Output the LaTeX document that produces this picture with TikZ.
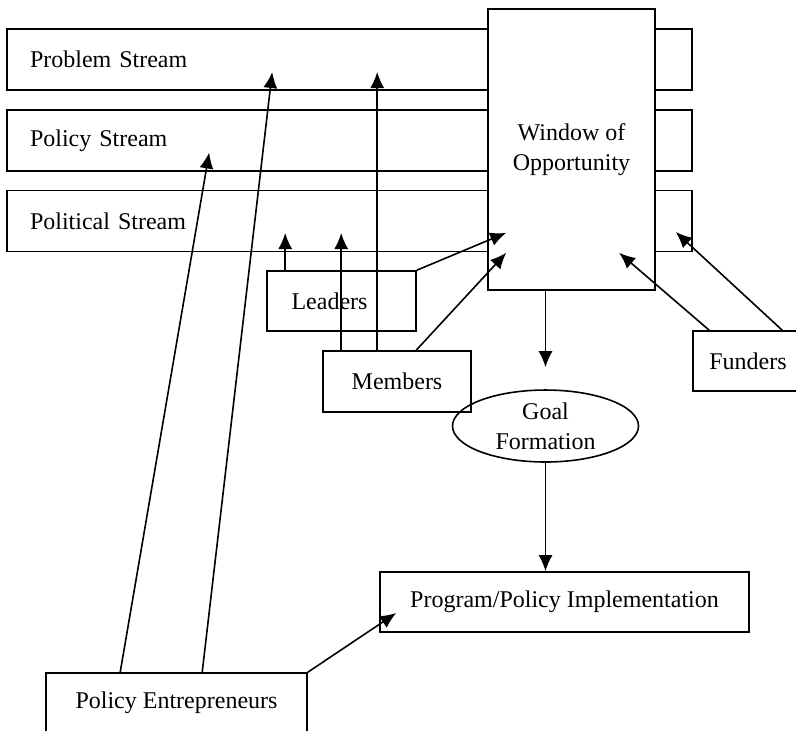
\documentclass[tikz,border=0pt]{standalone}
\usepackage{fontspec}
\setmainfont{Liberation Serif}
\usepackage{tikz}
\usetikzlibrary{shapes,arrows,arrows.meta,positioning}

\tikzset{
  stream/.style={draw, rectangle, draw=black, minimum width=342.5pt, minimum height=30.5pt, text width=319.5pt, inner xsep=11.5pt, align=left},
  box/.style={draw, rectangle, draw=black, minimum height=30pt, text centered},
  link/.style={black, line width=0.8pt, -{Latex[length=8pt,width=7pt]}}
}

\begin{document}
\begin{tikzpicture}[x=0.5pt, y=-0.5pt, line width=0.8pt, font=\fontsize{12}{15}\selectfont]
       \useasboundingbox (0,0) rectangle (796,730);

       %Defining nodes
       \node[stream] (Problem) at (349.5,59.5) {Problem Stream};
       \node[stream, below of=Problem, node distance=40.5pt] (Policy) {Policy Stream};
       \node[stream, below of=Policy, node distance=40.25pt] (Political) {Political Stream};

       \node[draw, rectangle, draw=black, fill=white, minimum width=83.5pt, minimum height=140.5pt, align=center] (Window) at (571.5,149.5) {Window of\\Opportunity};

       \node[box, minimum width=74.5pt] (Leaders) at (341.5,301) {Leaders\hspace*{12pt}};
       \node[box, minimum width=74pt, minimum height=30.5pt, below of=Leaders, node distance=40.25pt, xshift=27.75pt] (Members) {Members};
       \node[box, minimum width=55pt] (Funders) at (748,361) {Funders};

       \node[draw, ellipse, draw=black, minimum width=93pt, minimum height=35pt, inner sep=1pt, align=center] (Goal) at (545.5,426) {Goal\\Formation};

       \node[box, minimum width=184.5pt] (Program) at (564.5,602) {Program/Policy Implementation};
       \node[box, minimum width=130.5pt] (Entrepreneurs) at (176.5,703) {Policy Entrepreneurs}; %cut by the page edge

       %Drawing Diagram
       \draw[link] ([shift={(75,0)}]Entrepreneurs.north west) -- ([shift={(203,12)}]Policy.west);
       \draw[link] ([shift={(157,0)}]Entrepreneurs.north west) -- ([shift={(266,12.5)}]Problem.west);
       \draw[link] (Entrepreneurs.north east) -- ([shift={(17,11)}]Program.west);

       \draw[link] ([shift={(55,0)}]Members.north west) -- ([shift={(371,12.5)}]Problem.west);
       \draw[link] ([shift={(19,0)}]Members.north west) -- ([shift={(335,12)}]Political.west);
       \draw[link] ([shift={(94,0)}]Members.north west) -- ([shift={(19,-38)}]Window.south west);

       \draw[link] ([shift={(19,0)}]Leaders.north west) -- ([shift={(279,12)}]Political.west);
       \draw[link] (Leaders.north east) -- ([shift={(19,-58)}]Window.south west);

       \draw[link] ([shift={(17,0)}]Funders.north west) -- ([shift={(132,-38)}]Window.south west);
       \draw[link] ([shift={(90,0)}]Funders.north west) -- ([shift={(-17,11)}]Political.east);

       \draw[link, shorten >=11pt] (Window.south -| Goal.north) -- (Goal.north);
       \draw[link] (Goal.south) -- (Goal.south |- Program.north);
\end{tikzpicture}
\end{document}
